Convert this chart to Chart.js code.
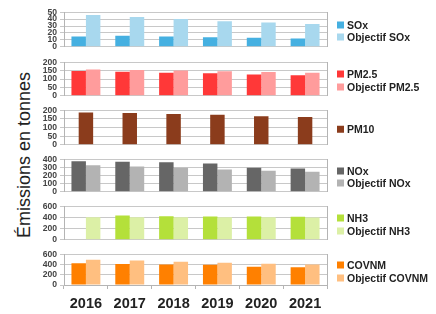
<!DOCTYPE html>
<html>
<head>
<meta charset="utf-8">
<script src="https://cdn.jsdelivr.net/npm/chart.js@4/dist/chart.umd.min.js"></script>
<style>
  html, body { margin: 0; padding: 0; background: #fff; }
  #wrap { position: relative; width: 436px; height: 314px; overflow: hidden; font-family: "Liberation Sans", Arial, sans-serif; }
  .panel { position: absolute; left: 0; width: 436px; }
  .legend { position: absolute; left: 337px; transform: translateY(-50%); font-weight: bold; font-size: 10.5px; color: #222; }
  .legend div { height: 12.5px; line-height: 12.5px; white-space: nowrap; }
  .legend span { display: inline-block; width: 7px; height: 7px; margin-right: 3px; vertical-align: 0px; }
  .ytitle { position: absolute; left: 24px; top: 155px; transform: translate(-50%, -50%) rotate(-90deg); white-space: nowrap; font-size: 18px; color: #222; }
</style>
</head>
<body>
<div id="wrap">
  <div class="ytitle">Émissions en tonnes</div>
</div>
<script>
// Années
const years = ['2016', '2017', '2018', '2019', '2020', '2021'];

// Valeurs (tonnes)
const sox = [15, 16, 15, 14, 13, 12];
const soxObj = [46, 43, 40, 37, 35, 33];
const pm25 = [148, 143, 137, 134, 127, 122];
const pm25Obj = [156, 153, 150, 146, 141, 137];
const pm10 = [186, 183, 178, 174, 165, 160];
const nox = [375, 368, 361, 347, 295, 285];
const noxObj = [325, 311, 294, 273, 259, 245];
const nh3 = [null, 433, 422, 417, 416, 410];
const nh3Obj = [402, 402, 402, 402, 402, 400];
const covnm = [425, 409, 398, 393, 355, 344];
const covnmObj = [491, 475, 453, 431, 411, 400];

// Un petit graphique par polluant
const panels = [
  { max: 50,  step: 10,  sets: [['SOx', sox, '#45b0e1'], ['Objectif SOx', soxObj, '#a8d8ee']] },
  { max: 200, step: 50,  sets: [['PM2.5', pm25, '#ff3838'], ['Objectif PM2.5', pm25Obj, '#ff9c9c']] },
  { max: 200, step: 50,  sets: [['PM10', pm10, '#8b3c1c']] },
  { max: 400, step: 100, sets: [['NOx', nox, '#666666'], ['Objectif NOx', noxObj, '#b3b3b3']] },
  { max: 600, step: 200, sets: [['NH3', nh3, '#b4e03a'], ['Objectif NH3', nh3Obj, '#dcf0a6']] },
  { max: 600, step: 200, sets: [['COVNM', covnm, '#ff8000'], ['Objectif COVNM', covnmObj, '#ffbf80']] }
];

// mise en page (haut / bas de chaque zone de tracé)
const plotTop = [10, 60, 108, 157, 204, 252];
const plotBottom = [49, 98, 147, 194, 242, 288];
const plotLeft = 64, plotRight = 327;
const gridColor = '#c8c8c8';
const axisColor = '#b4b4b4';

const wrap = document.getElementById('wrap');

panels.forEach((p, i) => {
  const last = i === panels.length - 1;
  const top = plotTop[i] - 6;
  const height = last ? 314 - top + 6 : (plotBottom[i] - plotTop[i]) + 12;

  const div = document.createElement('div');
  div.className = 'panel';
  div.style.top = top + 'px';
  div.style.height = height + 'px';
  const canvas = document.createElement('canvas');
  canvas.width = 436;
  canvas.height = height;
  div.appendChild(canvas);
  wrap.appendChild(div);

  const single = p.sets.length === 1;

  const chart = new Chart(canvas, {
    type: 'bar',
    data: {
      labels: years,
      datasets: p.sets.map(s => ({
        label: s[0],
        data: s[1],
        backgroundColor: s[2],
        borderWidth: 0,
        categoryPercentage: 0.66,
        barPercentage: single ? 0.5 : 1
      }))
    },
    options: {
      responsive: false,
      animation: false,
      devicePixelRatio: 1,
      layout: { padding: { top: 6, bottom: last ? 2 : 6, left: 0, right: 436 - plotRight } },
      plugins: { legend: { display: false }, tooltip: { enabled: false } },
      scales: {
        x: {
          display: last,
          grid: { display: true, drawOnChartArea: false, drawTicks: true, tickLength: 4, color: axisColor },
          border: { color: axisColor },
          ticks: { color: '#222', padding: 6, maxRotation: 0, font: { family: 'Liberation Sans', size: 14.5, weight: 'bold' } }
        },
        y: {
          min: 0,
          max: p.max,
          ticks: { stepSize: p.step, autoSkip: false, color: '#444', padding: 3, font: { family: 'Liberation Sans', size: 8.6, weight: 'bold' } },
          grid: { color: gridColor, tickLength: 4 },
          border: { color: axisColor },
          afterFit: s => { s.width = plotLeft; }
        },
        y1: {
          position: 'right',
          grid: { display: false, drawTicks: false },
          ticks: { display: false },
          border: { color: axisColor },
          afterFit: s => { s.width = 0; }
        }
      }
    }
  });

  // légende à droite de chaque graphique
  const leg = document.createElement('div');
  leg.className = 'legend';
  leg.style.top = ((plotTop[i] + plotBottom[i]) / 2 + 1) + 'px';
  chart.data.datasets.forEach(ds => {
    const row = document.createElement('div');
    const box = document.createElement('span');
    box.style.background = ds.backgroundColor;
    row.appendChild(box);
    row.appendChild(document.createTextNode(ds.label));
    leg.appendChild(row);
  });
  wrap.appendChild(leg);
});
</script>
</body>
</html>
